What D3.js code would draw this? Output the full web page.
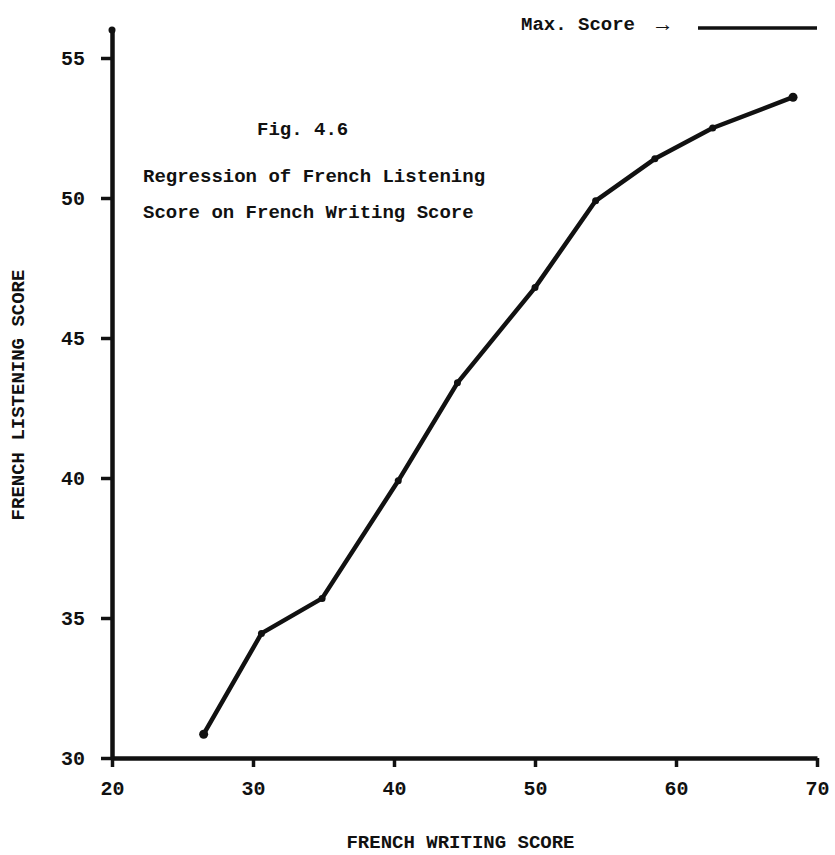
<!DOCTYPE html>
<html>
<head>
<meta charset="utf-8">
<script src="https://cdn.jsdelivr.net/npm/d3@7"></script>
<style>
  body { margin: 0; background: #fff; }
  text { font-family: "Liberation Mono", "DejaVu Sans Mono", monospace; font-weight: bold; fill: #111; }
</style>
</head>
<body>
<div id="viz"></div>
<script>
// regression points
const writingScore = [26.5, 30.6, 34.9, 40.3, 44.5, 50.0, 54.3, 58.5, 62.6, 68.3];
const listeningScore = [30.85, 34.45, 35.7, 39.9, 43.4, 46.8, 49.9, 51.4, 52.5, 53.6];
const xTicks = [20, 30, 40, 50, 60, 70];
const yTicks = [30, 35, 40, 45, 50, 55];
const titleLines = ["Fig. 4.6", "Regression of French Listening", "Score on French Writing Score"];

const width = 835;
const height = 855;

const svg = d3.select("#viz")
  .append("svg")
  .attr("width", width)
  .attr("height", height);

const x = d3.scaleLinear().domain([20, 70]).range([112, 817]);
const y = d3.scaleLinear().domain([30, 56]).range([758, 30]);

const data = writingScore.map((w, i) => ({ w: w, l: listeningScore[i] }));

// x axis
const xAxis = svg.append("g")
  .attr("transform", `translate(0,${y(30)})`)
  .call(d3.axisBottom(x).tickValues(xTicks).tickSize(9).tickSizeOuter(0).tickPadding(14));

// y axis
const yAxis = svg.append("g")
  .attr("transform", `translate(${x(20)},0)`)
  .call(d3.axisLeft(y).tickValues(yTicks).tickSize(11).tickSizeOuter(0).tickPadding(16));

[xAxis, yAxis].forEach(g => {
  g.select(".domain").attr("stroke", "#111").attr("stroke-width", 4.5);
  g.selectAll(".tick line").attr("stroke", "#111").attr("stroke-width", 3.5);
  g.selectAll(".tick text")
    .attr("font-family", "Liberation Mono, monospace")
    .attr("font-weight", "bold")
    .attr("font-size", 20)
    .attr("fill", "#111");
});

// small knob at the top of the y axis
svg.append("circle")
  .attr("cx", x(20)).attr("cy", y(56))
  .attr("r", 3.5).attr("fill", "#111");

// regression line
const line = d3.line()
  .x(d => x(d.w))
  .y(d => y(d.l));

svg.append("path")
  .datum(data)
  .attr("d", line)
  .attr("fill", "none")
  .attr("stroke", "#111")
  .attr("stroke-width", 4.5)
  .attr("stroke-linejoin", "round")
  .attr("stroke-linecap", "round");

svg.selectAll(".pt")
  .data(data)
  .enter().append("circle")
  .attr("class", "pt")
  .attr("cx", d => x(d.w))
  .attr("cy", d => y(d.l))
  .attr("r", (d, i) => (i === 0 || i === data.length - 1) ? 4.5 : 3.5)
  .attr("fill", "#111");

// title block
svg.selectAll(".title")
  .data(titleLines)
  .enter().append("text")
  .attr("class", "title")
  .attr("x", (d, i) => i === 0 ? 257 : 143)
  .attr("y", (d, i) => [135, 182, 218][i])
  .attr("font-size", 19)
  .text(d => d);

// max score marker
svg.append("text")
  .attr("x", 521)
  .attr("y", 30)
  .attr("font-size", 19)
  .text("Max. Score");

svg.append("text")
  .attr("x", 656)
  .attr("y", 31)
  .attr("font-size", 22)
  .text("\u2192");

svg.append("line")
  .attr("x1", 698).attr("x2", 817)
  .attr("y1", 28).attr("y2", 28)
  .attr("stroke", "#111")
  .attr("stroke-width", 3.5);

// axis titles
svg.append("text")
  .attr("x", (x(20) + x(70)) / 2 - 4)
  .attr("y", 848)
  .attr("text-anchor", "middle")
  .attr("font-size", 19)
  .text("FRENCH WRITING SCORE");

svg.append("text")
  .attr("transform", "translate(24,395) rotate(-90)")
  .attr("text-anchor", "middle")
  .attr("font-size", 19)
  .text("FRENCH LISTENING SCORE");
</script>
</body>
</html>
